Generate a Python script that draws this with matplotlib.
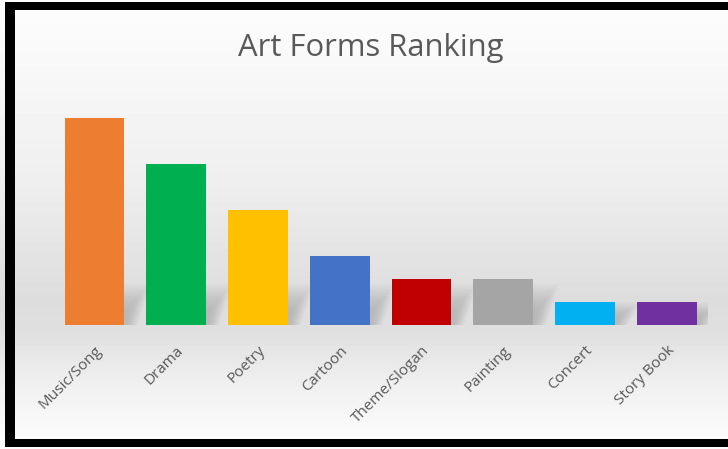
import numpy as np
import matplotlib
matplotlib.use('Agg')
import matplotlib.pyplot as plt
from matplotlib.patches import Rectangle, Polygon

### Data
categories = ['Music/Song', 'Drama', 'Poetry', 'Cartoon', 'Theme/Slogan',
              'Painting', 'Concert', 'Story Book']
values = [9, 7, 5, 3, 2, 2, 1, 1]
colors = ['#ED7D31', '#00B050', '#FFC000', '#4472C4', '#C00000',
          '#A5A5A5', '#00B0F0', '#7030A0']
title = 'Art Forms Ranking'


def main():
    W, H = 728, 449
    fig = plt.figure(figsize=(W/100, H/100), dpi=100)
    fig.patch.set_facecolor('white')

    ### Gradient background (white top -> gray near baseline -> white bottom)
    bg = fig.add_axes([0, 0, 1, 1], zorder=0)
    ypix = np.linspace(0, H, H)
    stops_y = [0, 60, 180, 300, 330, 380, 449]
    stops_v = [0.99, 0.975, 0.935, 0.865, 0.875, 0.935, 0.995]
    grad = np.interp(ypix, stops_y, stops_v)
    img = np.repeat(grad[:, None], 10, axis=1)
    bg.imshow(img, cmap='gray', vmin=0, vmax=1, aspect='auto',
              extent=[0, 1, 0, 1], origin='upper')
    bg.set_axis_off()

    ### Black frame (left, top, bottom; right side is cut off)
    def band(x0, y0, w, h):
        fig.patches.append(Rectangle((x0/W, 1 - (y0 + h)/H), w/W, h/H,
                                     transform=fig.transFigure,
                                     facecolor='black', edgecolor='none', zorder=5))
    band(5, 2, W, 8)      # top
    band(5, 439, W, 8)    # bottom
    band(5, 2, 10, 445)   # left

    ### Bars
    ax = fig.add_axes([0.0736, 0.2762, 0.8984, 0.5122], zorder=2)
    ax.patch.set_alpha(0)
    x = np.arange(len(categories))
    width = 0.73

    ## soft shadows behind bars
    for xi, h in zip(x, values):
        s = min(h, 1.8)
        for k in range(14):
            f = k / 14.
            poly = Polygon([(xi - width/2 + 0.1, 0),
                            (xi + width/2 + 0.16 - 0.14*f, 0),
                            (xi + width/2 + 0.32 - 0.28*f, s*(1 - 0.65*f)),
                            (xi - width/2 + 0.25, s*(1 - 0.65*f))],
                           closed=True, facecolor='#707070', edgecolor='none',
                           alpha=0.022, zorder=1)
            ax.add_patch(poly)

    ax.bar(x, values, width=width, color=colors, zorder=3)

    ax.set_xlim(-0.5, len(categories) - 0.5)
    ax.set_ylim(0, 10)
    ax.set_yticks([])
    for sp in ax.spines.values():
        sp.set_visible(False)
    ax.set_xticks(x)
    ax.set_xticklabels(categories, rotation=45, ha='right', va='top',
                       rotation_mode='anchor', fontsize=11, color='#595959',
                       family=['Open Sans', 'DejaVu Sans'])
    ax.tick_params(axis='x', length=0, pad=13)

    ### Title
    fig.text(371/W, 1 - 48/H, title, ha='center', va='center',
             fontsize=22.3, color='#595959', family=['Open Sans', 'DejaVu Sans'])

    fig.savefig('out.png', dpi=100)
    return


if __name__ == "__main__":
    main()
